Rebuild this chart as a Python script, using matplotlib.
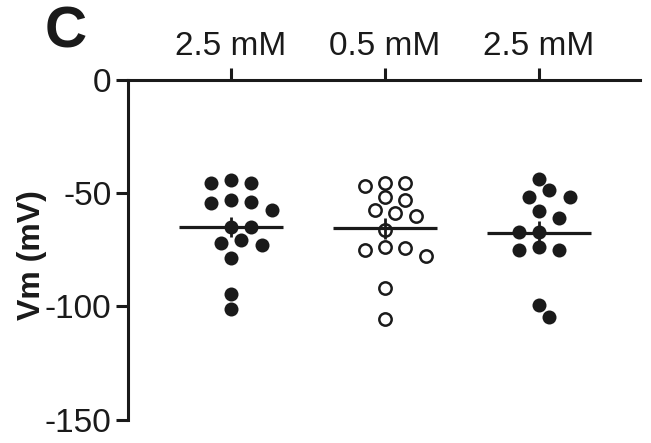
import numpy as np
import matplotlib
matplotlib.use("Agg")
import matplotlib.pyplot as plt

plt.rcParams["font.family"] = ["Liberation Sans", "DejaVu Sans"]
plt.rcParams["axes.unicode_minus"] = False

# Resting membrane potential per cell
GROUPS = ["2.5 mM", "0.5 mM", "2.5 mM"]
VM_25_BEFORE = [-45.6, -44.1, -45.4, -54.1, -57.4, -54.4, -53.2, -65.1, -65.1,
                -70.7, -72.8, -71.9, -78.7, -94.5, -101.3]
VM_05 = [-45.3, -46.9, -45.3, -53.2, -51.9, -57.5, -60.0, -58.6, -66.4,
         -74.4, -77.8, -74.9, -73.7, -92.0, -105.7]
VM_25_AFTER = [-43.8, -48.8, -51.9, -51.6, -58.0, -60.8, -67.1, -67.0,
               -75.0, -75.1, -74.0, -99.5, -104.7]
FILLED = [True, False, True]
Y_TICKS = [0, -50, -100, -150]

INK = "#1a1a1a"
DPI = 100
W, H = 651, 443
DOT_PX = 14.0


def swarm_x(ax, x0, values, step_px=10.2, min_dist_px=14.5):
    """Spread points sideways (in pixels) so the dots do not pile up."""
    tr = ax.transData
    ys = [tr.transform((x0, v))[1] for v in values]
    xc = tr.transform((x0, 0))[0]
    placed = []
    xs = [xc] * len(values)
    for i in np.argsort(-np.asarray(values)):
        y = ys[i]
        k = 0
        spot = None
        while spot is None:
            for c in ([0] if k == 0 else [k, -k]):
                xp = xc + c * step_px
                if all((xp - px) ** 2 + (y - py) ** 2 >= min_dist_px ** 2 for px, py in placed):
                    spot = xp
                    break
            k += 1
        placed.append((spot, y))
        xs[i] = spot
    inv = tr.inverted()
    return [inv.transform((xp, ys[i]))[0] for i, xp in enumerate(xs)]


fig = plt.figure(figsize=(W / DPI, H / DPI), dpi=DPI)
ax = fig.add_axes([128 / W, 1 - 419.5 / H, (640 - 128) / W, (419.5 - 80) / H])
ax.set_ylim(-150, 0)
ax.set_xlim(0.331, 3.656)

positions = np.arange(1, len(GROUPS) + 1)
ms = DOT_PX * 72 / DPI
for pos, vals, filled in zip(positions, [VM_25_BEFORE, VM_05, VM_25_AFTER], FILLED):
    xs = swarm_x(ax, pos, vals)
    if filled:
        ax.plot(xs, vals, "o", ms=ms, color=INK, mec="none", zorder=3, clip_on=False)
    else:
        ax.plot(xs, vals, "o", ms=ms - 1.2, mfc="white", mec=INK, mew=1.8,
                zorder=3, clip_on=False)
    m = np.mean(vals)
    sem = np.std(vals, ddof=1) / np.sqrt(len(vals))
    ax.hlines(m, pos - 0.335, pos + 0.335, color=INK, lw=2.3, zorder=4)
    ax.vlines(pos, m - sem, m + sem, color=INK, lw=2.0, zorder=4)

# axes styling: x axis sits on top at 0 mV
ax.xaxis.tick_top()
ax.set_xticks(positions)
ax.set_xticklabels(GROUPS)
ax.set_yticks(Y_TICKS)
ax.set_yticklabels([str(t) for t in Y_TICKS])
for side in ["bottom", "right"]:
    ax.spines[side].set_visible(False)
for side in ["top", "left"]:
    ax.spines[side].set_linewidth(2.2)
    ax.spines[side].set_color(INK)
    ax.spines[side].set_capstyle("projecting")
ax.tick_params(axis="both", direction="out", length=9, width=2.2, color=INK,
               labelsize=24, labelcolor=INK)
ax.tick_params(axis="x", pad=4)
ax.tick_params(axis="y", pad=3)

ax.set_ylabel("Vm (mV)", fontsize=23, fontweight="bold", color=INK)
ax.yaxis.set_label_coords(-0.158, 0.485)

fig.text(45 / W, 1 - 48 / H, "C", fontsize=42, fontweight="bold", color=INK,
         ha="left", va="baseline")

fig.savefig("out.png", dpi=DPI)
